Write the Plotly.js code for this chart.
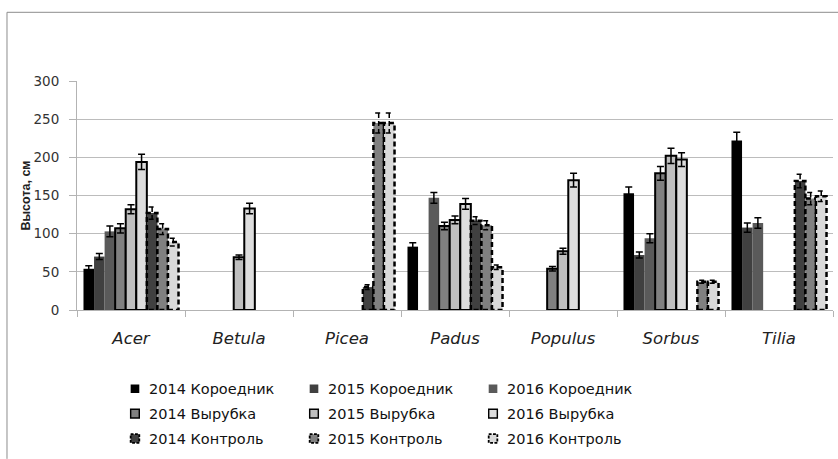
<!DOCTYPE html>
<html>
<head>
<meta charset="utf-8">
<script src="https://cdn.plot.ly/plotly-3.0.1.min.js"></script>
<style>html,body{margin:0;padding:0;background:#fff;}#chart{width:838px;height:459px;}</style>
</head>
<body>
<div id="chart"></div>
<script>
// Categories (species)
var categories = ['Acer', 'Betula', 'Picea', 'Padus', 'Populus', 'Sorbus', 'Tilia'];

// Series names
var seriesNames = [
  '2014 Короедник', '2015 Короедник', '2016 Короедник',
  '2014 Вырубка', '2015 Вырубка', '2016 Вырубка',
  '2014 Контроль', '2015 Контроль', '2016 Контроль'
];

// Heights, cm (null = no bar)
var kor2014 = [54, null, null, 83, null, 153, 222];
var kor2015 = [70, null, null, null, null, 72, 108];
var kor2016 = [103, null, null, 147, null, 94, 114];
var vyr2014 = [107, null, null, 110, 54, 179, null];
var vyr2015 = [132, 69, null, 118, 77, 202, null];
var vyr2016 = [194, 133, null, 139, 170, 197, null];
var kon2014 = [127, null, 30, 117, null, null, 169];
var kon2015 = [106, null, 245, 111, null, 37, 146];
var kon2016 = [89, null, 245, 56, null, 37, 149];

// Error values
var errKor2014 = [4, null, null, 5, null, 8, 11];
var errKor2015 = [4, null, null, null, null, 4, 6];
var errKor2016 = [7, null, null, 7, null, 6, 7];
var errVyr2014 = [6, null, null, 5, 3, 9, null];
var errVyr2015 = [6, 3, null, 5, 4, 10, null];
var errVyr2016 = [10, 7, null, 7, 9, 9, null];
var errKon2014 = [8, null, 3, 5, null, null, 9];
var errKon2015 = [7, null, 13, 6, null, 2, 8];
var errKon2016 = [5, null, 13, 3, null, 2, 7];

var yTickVals = [0, 50, 100, 150, 200, 250, 300];

var values = [kor2014, kor2015, kor2016, vyr2014, vyr2015, vyr2016, kon2014, kon2015, kon2016];
var errors = [errKor2014, errKor2015, errKor2016, errVyr2014, errVyr2015, errVyr2016, errKon2014, errKon2015, errKon2016];
var fills = ['#000000', '#404040', '#5a5a5a', '#808080', '#bfbfbf', '#dddddd', '#404040', '#808080', '#d9d9d9'];
var lineW = [0, 0, 0, 2, 2, 2, 2.5, 2.5, 2.5];
var legendIds = ['legend', 'legend2', 'legend3', 'legend', 'legend2', 'legend3', 'legend', 'legend2', 'legend3'];

var traces = values.map(function (v, i) {
  return {
    type: 'bar',
    name: seriesNames[i],
    x: categories,
    y: v,
    legend: legendIds[i],
    legendgroup: 'g' + i,
    marker: { color: fills[i], line: { color: '#000000', width: lineW[i] } },
    error_y: { type: 'data', array: errors[i], visible: true, symmetric: true, color: '#000000', thickness: 1.5, width: 3.5 },
    hoverinfo: 'x+y+name'
  };
});

var legendFont = { family: 'DejaVu Sans', size: 14.5, color: '#111111' };
function legendAt(x) {
  return { x: x, xanchor: 'left', y: -0.269, yanchor: 'top', orientation: 'v', font: legendFont, bgcolor: 'rgba(0,0,0,0)', traceorder: 'grouped', tracegroupgap: 3 };
}

var layout = {
  width: 838,
  height: 459,
  margin: { l: 77, r: 5, t: 81, b: 148 },
  paper_bgcolor: '#ffffff',
  plot_bgcolor: '#ffffff',
  barmode: 'group',
  bargap: 0.12,
  bargroupgap: 0,
  showlegend: true,
  legend: legendAt(0.0423),
  legend2: legendAt(0.2791),
  legend3: legendAt(0.5159),
  xaxis: {
    type: 'category',
    tickson: 'boundaries',
    ticks: 'outside',
    ticklen: 6,
    tickcolor: '#b3b3b3',
    showline: true,
    linecolor: '#b3b3b3',
    showgrid: false,
    ticklabelstandoff: 13,
    tickfont: { family: 'DejaVu Sans', size: 16.5, color: '#222222', style: 'italic' }
  },
  yaxis: {
    range: [0, 300],
    tickvals: yTickVals,
    ticks: 'outside',
    ticklen: 7,
    tickcolor: '#b3b3b3',
    showline: true,
    linecolor: '#b3b3b3',
    showgrid: true,
    gridcolor: '#bcbcbc',
    gridwidth: 1,
    zeroline: false,
    ticklabelstandoff: 7,
    tickfont: { family: 'DejaVu Sans', size: 13.5, color: '#333333' },
    title: { text: 'Высота, см', standoff: 0, font: { family: 'Liberation Sans', size: 12.5, color: '#222222', weight: 'bold' } }
  },
  shapes: [
    { type: 'line', xref: 'paper', yref: 'paper', x0: -0.0926, x1: -0.0926, y0: -0.65, y1: 1.3, line: { color: '#8c8c8c', width: 1 } },
    { type: 'line', xref: 'paper', yref: 'paper', x0: -0.0926, x1: 1.01, y0: 1.3, y1: 1.3, line: { color: '#8c8c8c', width: 1 } }
  ]
};

Plotly.newPlot('chart', traces, layout, { displayModeBar: false, responsive: false }).then(function (gd) {
  // Dashed outlines for the "Контроль" series (Plotly bars have no dash option)
  var barTraces = gd.querySelectorAll('.barlayer .trace');
  for (var i = 6; i < 9 && i < barTraces.length; i++) {
    barTraces[i].querySelectorAll('path').forEach(function (p) {
      p.style.strokeDasharray = '5,3';
    });
  }
  // Smaller legend swatches placed nearer the text, like the original
  gd.querySelectorAll('.legendpoints path').forEach(function (p) {
    p.setAttribute('transform', 'translate(26,0) scale(0.72)');
    var t = p.closest('.traces');
    if (t && t.textContent.indexOf('Контроль') >= 0) {
      p.style.strokeDasharray = '4,2';
    }
  });
});
</script>
</body>
</html>
